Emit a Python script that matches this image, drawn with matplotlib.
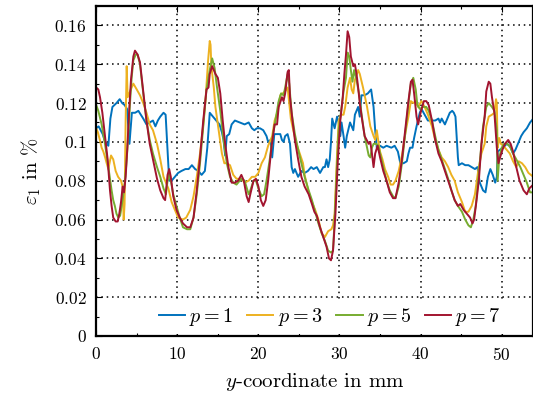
import numpy as np
import matplotlib
matplotlib.use("Agg")
import matplotlib.pyplot as plt
from matplotlib.ticker import MultipleLocator, FuncFormatter

plt.rcParams['font.family'] = 'serif'
plt.rcParams['font.serif'] = ['cmr10']
plt.rcParams['mathtext.fontset'] = 'cm'
plt.rcParams['axes.unicode_minus'] = False

# --- data (x in mm, strain in %) ---
p1 = [(0.0, 0.107), (0.3, 0.108), (0.8, 0.104), (1.1, 0.100), (1.5, 0.098), (1.75, 0.112), (2.0, 0.118),
      (2.5, 0.120), (2.9, 0.122), (3.2, 0.120), (3.5, 0.119), (3.8, 0.117), (4.1, 0.099), (4.4, 0.115),
      (4.8, 0.115), (5.2, 0.116), (5.5, 0.114), (5.8, 0.112), (6.2, 0.109), (6.6, 0.110), (7.0, 0.111),
      (7.3, 0.108), (7.6, 0.111), (7.9, 0.113), (8.3, 0.115), (8.56, 0.114), (8.9, 0.087), (9.0, 0.080),
      (9.3, 0.080), (9.7, 0.082), (10.1, 0.084), (10.5, 0.085), (11.0, 0.086), (11.4, 0.086), (11.8, 0.088),
      (12.2, 0.086), (12.6, 0.085), (13.0, 0.083), (13.4, 0.085), (13.7, 0.097), (14.0, 0.115), (14.4, 0.113),
      (14.8, 0.111), (15.2, 0.109), (15.5, 0.105), (15.7, 0.101), (15.9, 0.093), (16.1, 0.103), (16.4, 0.104),
      (16.7, 0.109), (17.1, 0.111), (17.7, 0.110), (18.3, 0.109), (18.8, 0.110), (19.2, 0.107), (19.5, 0.106),
      (19.8, 0.107), (20.2, 0.107), (20.6, 0.106), (21.0, 0.103), (21.2, 0.100), (21.5, 0.101), (21.7, 0.092),
      (21.96, 0.104), (22.3, 0.104), (22.7, 0.104), (22.9, 0.101), (23.1, 0.100), (23.3, 0.103), (23.6, 0.104),
      (23.9, 0.099), (24.1, 0.087), (24.3, 0.084), (24.5, 0.086), (24.9, 0.082), (25.3, 0.085), (25.7, 0.084),
      (26.1, 0.085), (26.5, 0.087), (26.8, 0.086), (27.2, 0.087), (27.6, 0.084), (28.0, 0.087), (28.2, 0.087),
      (28.4, 0.091), (28.6, 0.087), (28.8, 0.091), (28.95, 0.100), (29.1, 0.112), (29.4, 0.107), (29.7, 0.113),
      (29.9, 0.110), (30.1, 0.103), (30.25, 0.110), (30.5, 0.103), (30.7, 0.097), (30.9, 0.103), (31.3, 0.110),
      (31.7, 0.106), (31.9, 0.114), (32.3, 0.118), (32.5, 0.113), (32.7, 0.124), (33.1, 0.124), (33.5, 0.125),
      (33.9, 0.127), (34.2, 0.118), (34.4, 0.106), (34.6, 0.097), (35.0, 0.098), (35.4, 0.097), (35.8, 0.098),
      (36.4, 0.097), (36.8, 0.098), (37.2, 0.095), (37.5, 0.089), (37.9, 0.089), (38.3, 0.090), (38.5, 0.094),
      (38.7, 0.097), (39.0, 0.097), (39.2, 0.102), (39.5, 0.108), (39.9, 0.115), (40.1, 0.117), (40.5, 0.114),
      (40.9, 0.111), (41.4, 0.111), (41.8, 0.111), (42.2, 0.112), (42.4, 0.110), (42.6, 0.112), (43.0, 0.109),
      (43.3, 0.112), (43.6, 0.115), (43.9, 0.116), (44.1, 0.115), (44.3, 0.113), (44.6, 0.092), (44.7, 0.088),
      (45.1, 0.089), (45.5, 0.088), (45.9, 0.088), (46.3, 0.087), (46.7, 0.086), (47.0, 0.087), (47.3, 0.079),
      (47.7, 0.075), (48.0, 0.074), (48.3, 0.082), (48.6, 0.086), (48.9, 0.083), (49.2, 0.079), (49.4, 0.082),
      (49.5, 0.095), (49.8, 0.096), (50.2, 0.097), (50.6, 0.099), (51.0, 0.098), (51.4, 0.094), (51.7, 0.096),
      (52.1, 0.100), (52.4, 0.103), (52.7, 0.105), (53.1, 0.107), (53.5, 0.110), (53.9, 0.112)]

p3 = [(0.0, 0.107), (0.2, 0.105), (0.45, 0.101), (0.67, 0.097), (0.88, 0.095), (1.1, 0.092), (1.29, 0.089),
      (1.5, 0.086), (1.83, 0.093), (2.1, 0.091), (2.4, 0.085), (2.7, 0.082), (3.06, 0.080), (3.25, 0.077),
      (3.39, 0.060), (3.5, 0.068), (3.63, 0.111), (3.76, 0.139), (3.88, 0.123), (4.17, 0.126), (4.58, 0.130),
      (5.0, 0.127), (5.4, 0.124), (5.8, 0.120), (6.2, 0.115), (6.6, 0.109), (7.0, 0.106), (7.5, 0.099),
      (7.9, 0.091), (8.3, 0.082), (8.6, 0.079), (8.9, 0.076), (9.3, 0.069), (9.7, 0.065), (10.1, 0.061),
      (10.7, 0.060), (11.1, 0.061), (11.6, 0.065), (12.0, 0.072), (12.4, 0.082), (12.8, 0.094), (13.2, 0.109),
      (13.5, 0.123), (13.8, 0.142), (14.0, 0.152), (14.1, 0.150), (14.2, 0.139), (14.5, 0.128), (14.7, 0.118),
      (15.1, 0.106), (15.5, 0.094), (15.8, 0.089), (16.1, 0.089), (16.5, 0.088), (16.9, 0.083), (17.3, 0.081),
      (17.7, 0.081), (17.9, 0.081), (18.3, 0.079), (18.8, 0.080), (19.2, 0.082), (19.6, 0.082), (20.0, 0.084),
      (20.4, 0.089), (20.8, 0.092), (21.2, 0.098), (21.7, 0.103), (22.0, 0.111), (22.4, 0.116), (22.7, 0.124),
      (23.0, 0.125), (23.3, 0.126), (23.6, 0.128), (23.8, 0.120), (24.0, 0.112), (24.3, 0.106), (24.7, 0.099),
      (25.1, 0.094), (25.5, 0.089), (25.7, 0.083), (26.2, 0.074), (26.6, 0.069), (27.0, 0.065), (27.4, 0.060),
      (27.8, 0.053), (28.2, 0.051), (28.6, 0.054), (29.0, 0.055), (29.2, 0.057), (29.4, 0.063), (29.7, 0.094),
      (29.9, 0.111), (30.2, 0.114), (30.5, 0.114), (30.7, 0.118), (31.0, 0.128), (31.3, 0.133), (31.5, 0.127),
      (31.7, 0.125), (31.9, 0.132), (32.3, 0.137), (32.5, 0.135), (32.9, 0.128), (33.4, 0.118), (33.8, 0.108),
      (34.2, 0.103), (34.4, 0.101), (34.6, 0.106), (34.8, 0.100), (35.0, 0.095), (35.3, 0.091), (35.6, 0.086),
      (36.0, 0.082), (36.3, 0.078), (36.6, 0.078), (36.9, 0.080), (37.3, 0.085), (37.7, 0.093), (38.1, 0.104),
      (38.5, 0.113), (38.8, 0.121), (39.1, 0.120), (39.4, 0.121), (39.7, 0.118), (40.1, 0.121), (40.5, 0.118),
      (40.9, 0.114), (41.4, 0.108), (41.8, 0.101), (42.2, 0.096), (42.6, 0.092), (43.0, 0.090), (43.4, 0.087),
      (43.8, 0.083), (44.2, 0.080), (44.6, 0.074), (45.1, 0.069), (45.5, 0.064), (45.9, 0.064), (46.3, 0.067),
      (46.7, 0.073), (47.1, 0.085), (47.5, 0.094), (47.9, 0.099), (48.1, 0.108), (48.4, 0.113), (48.8, 0.114),
      (49.1, 0.115), (49.3, 0.122), (49.4, 0.120), (49.5, 0.097), (49.7, 0.102), (49.9, 0.099), (50.2, 0.098),
      (50.6, 0.096), (51.0, 0.094), (51.4, 0.090), (51.8, 0.087), (52.1, 0.090), (52.5, 0.089), (52.9, 0.087),
      (53.3, 0.084), (53.9, 0.082)]

p5 = [(0.0, 0.119), (0.26, 0.116), (0.67, 0.109), (1.08, 0.099), (1.5, 0.087), (1.9, 0.075), (2.1, 0.070),
      (2.3, 0.067), (2.5, 0.063), (2.73, 0.061), (2.95, 0.062), (3.14, 0.067), (3.35, 0.073), (3.55, 0.080),
      (3.76, 0.091), (3.96, 0.104), (4.17, 0.120), (4.37, 0.133), (4.58, 0.142), (4.87, 0.145), (5.1, 0.145),
      (5.4, 0.140), (5.8, 0.125), (6.2, 0.111), (6.6, 0.101), (7.0, 0.094), (7.5, 0.087), (7.9, 0.082),
      (8.3, 0.076), (8.6, 0.073), (8.8, 0.080), (9.0, 0.083), (9.2, 0.080), (9.5, 0.073), (9.9, 0.067),
      (10.3, 0.061), (10.7, 0.056), (11.2, 0.055), (11.6, 0.055), (12.0, 0.061), (12.4, 0.073), (12.8, 0.089),
      (13.2, 0.108), (13.6, 0.127), (14.0, 0.137), (14.3, 0.143), (14.6, 0.138), (14.9, 0.128), (15.3, 0.116),
      (15.7, 0.101), (16.1, 0.089), (16.5, 0.082), (16.9, 0.079), (17.3, 0.078), (17.7, 0.080), (17.9, 0.081),
      (18.3, 0.080), (18.8, 0.073), (19.0, 0.075), (19.4, 0.080), (19.7, 0.080), (20.0, 0.076), (20.4, 0.072),
      (20.7, 0.073), (21.0, 0.080), (21.4, 0.091), (21.8, 0.104), (22.1, 0.111), (22.5, 0.121), (22.8, 0.125),
      (23.1, 0.124), (23.3, 0.128), (23.6, 0.135), (23.8, 0.130), (24.1, 0.115), (24.5, 0.104), (24.9, 0.096),
      (25.3, 0.089), (25.7, 0.082), (26.2, 0.075), (26.6, 0.070), (27.0, 0.064), (27.4, 0.058), (27.8, 0.053),
      (28.2, 0.049), (28.6, 0.044), (28.95, 0.043), (29.2, 0.044), (29.4, 0.060), (29.7, 0.089), (29.9, 0.106),
      (30.2, 0.116), (30.5, 0.126), (30.8, 0.133), (31.0, 0.146), (31.2, 0.144), (31.4, 0.137), (31.6, 0.131),
      (31.8, 0.137), (32.1, 0.132), (32.4, 0.125), (32.7, 0.115), (33.1, 0.103), (33.6, 0.093), (33.8, 0.092),
      (34.0, 0.097), (34.2, 0.099), (34.5, 0.099), (34.8, 0.098), (35.0, 0.094), (35.4, 0.087), (35.8, 0.080),
      (36.2, 0.075), (36.6, 0.072), (36.9, 0.071), (37.3, 0.077), (37.7, 0.089), (38.1, 0.104), (38.5, 0.120),
      (38.8, 0.130), (39.1, 0.133), (39.4, 0.127), (39.6, 0.119), (39.9, 0.117), (40.3, 0.118), (40.7, 0.118),
      (41.0, 0.116), (41.4, 0.111), (41.8, 0.103), (42.2, 0.096), (42.6, 0.091), (43.0, 0.086), (43.4, 0.081),
      (43.8, 0.075), (44.2, 0.070), (44.6, 0.067), (45.1, 0.064), (45.5, 0.060), (45.9, 0.057), (46.2, 0.056),
      (46.5, 0.060), (46.8, 0.067), (47.1, 0.080), (47.4, 0.094), (47.7, 0.108), (48.1, 0.118), (48.4, 0.120),
      (48.8, 0.118), (49.1, 0.116), (49.4, 0.106), (49.5, 0.080), (49.7, 0.092), (50.0, 0.097), (50.3, 0.099),
      (50.7, 0.099), (51.1, 0.097), (51.4, 0.094), (51.8, 0.091), (52.3, 0.087), (52.7, 0.083), (53.1, 0.079),
      (53.5, 0.074), (53.9, 0.074)]

p7 = [(0.0, 0.128), (0.26, 0.127), (0.47, 0.123), (0.76, 0.115), (1.08, 0.103), (1.41, 0.091), (1.7, 0.075),
      (1.9, 0.067), (2.1, 0.061), (2.4, 0.059), (2.65, 0.059), (2.85, 0.063), (3.06, 0.069), (3.26, 0.077),
      (3.43, 0.074), (3.63, 0.082), (3.84, 0.097), (4.05, 0.115), (4.29, 0.132), (4.58, 0.144), (4.78, 0.147),
      (5.1, 0.145), (5.4, 0.141), (5.8, 0.126), (6.2, 0.111), (6.6, 0.099), (7.0, 0.091), (7.5, 0.081),
      (7.9, 0.075), (8.3, 0.071), (8.5, 0.070), (8.8, 0.083), (9.0, 0.086), (9.2, 0.082), (9.5, 0.072),
      (9.9, 0.065), (10.3, 0.061), (10.7, 0.058), (11.2, 0.056), (11.6, 0.056), (12.0, 0.061), (12.4, 0.075),
      (12.8, 0.092), (13.2, 0.111), (13.6, 0.127), (13.85, 0.128), (14.0, 0.135), (14.3, 0.139), (14.7, 0.135),
      (15.0, 0.133), (15.3, 0.125), (15.6, 0.111), (15.9, 0.099), (16.3, 0.087), (16.7, 0.079), (17.1, 0.079),
      (17.5, 0.080), (17.9, 0.083), (18.2, 0.080), (18.55, 0.072), (18.8, 0.069), (19.0, 0.073), (19.4, 0.080),
      (19.7, 0.081), (20.0, 0.077), (20.3, 0.070), (20.6, 0.067), (20.9, 0.070), (21.2, 0.080), (21.6, 0.097),
      (22.0, 0.109), (22.3, 0.109), (22.5, 0.118), (22.9, 0.123), (23.1, 0.121), (23.3, 0.125), (23.6, 0.136),
      (23.75, 0.137), (23.9, 0.123), (24.2, 0.111), (24.5, 0.101), (24.9, 0.091), (25.3, 0.082), (25.7, 0.077),
      (26.2, 0.073), (26.6, 0.068), (26.9, 0.064), (27.2, 0.062), (27.6, 0.056), (28.0, 0.051), (28.4, 0.046),
      (28.7, 0.040), (28.95, 0.039), (29.2, 0.044), (29.5, 0.063), (29.8, 0.091), (30.1, 0.111), (30.4, 0.123),
      (30.6, 0.135), (30.8, 0.145), (31.0, 0.157), (31.2, 0.154), (31.4, 0.144), (31.7, 0.139), (31.9, 0.140),
      (32.1, 0.135), (32.3, 0.128), (32.5, 0.120), (32.8, 0.111), (33.1, 0.103), (33.6, 0.099), (33.8, 0.100),
      (34.0, 0.094), (34.2, 0.087), (34.4, 0.094), (34.7, 0.098), (35.0, 0.092), (35.4, 0.085), (35.8, 0.080),
      (36.2, 0.074), (36.6, 0.071), (36.9, 0.071), (37.3, 0.079), (37.7, 0.091), (38.1, 0.106), (38.5, 0.121),
      (38.8, 0.131), (39.0, 0.132), (39.2, 0.125), (39.5, 0.113), (39.7, 0.109), (40.0, 0.115), (40.4, 0.121),
      (40.7, 0.121), (41.0, 0.119), (41.4, 0.111), (41.8, 0.101), (42.2, 0.094), (42.6, 0.090), (43.0, 0.085),
      (43.4, 0.080), (43.8, 0.075), (44.2, 0.070), (44.6, 0.067), (44.9, 0.068), (45.3, 0.065), (45.7, 0.063),
      (46.1, 0.061), (46.4, 0.058), (46.6, 0.060), (46.9, 0.070), (47.2, 0.081), (47.5, 0.099), (47.9, 0.113),
      (48.1, 0.126), (48.4, 0.131), (48.6, 0.130), (48.8, 0.123), (49.1, 0.115), (49.4, 0.097), (49.6, 0.089),
      (49.8, 0.092), (50.1, 0.096), (50.4, 0.099), (50.8, 0.101), (51.1, 0.099), (51.4, 0.095), (51.8, 0.087),
      (52.2, 0.080), (52.7, 0.075), (53.1, 0.073), (53.4, 0.076), (53.9, 0.078)]

series = [p1, p3, p5, p7]
labels = [r'$p = 1$', r'$p = 3$', r'$p = 5$', r'$p = 7$']
colors = ['#0072BD', '#EDB120', '#77AC30', '#A2142F']

fig = plt.figure(figsize=(5.33, 4.03), dpi=100)
ax = fig.add_axes([96.2 / 533, 67 / 403, (533 - 96.2) / 533, 330 / 403])

for data, lab, col in zip(series, labels, colors):
    arr = np.array(data)
    ax.plot(arr[:, 0], arr[:, 1], color=col, lw=1.4, label=lab)

ax.set_xlim(0, 53.86)
ax.set_ylim(0, 0.17)
ax.xaxis.set_major_locator(MultipleLocator(10))
ax.xaxis.set_minor_locator(MultipleLocator(5))
ax.yaxis.set_major_locator(MultipleLocator(0.02))
ax.yaxis.set_minor_locator(MultipleLocator(0.01))
ax.yaxis.set_major_formatter(FuncFormatter(lambda v, pos: r'$%g$' % round(v, 3)))
ax.xaxis.set_major_formatter(FuncFormatter(lambda v, pos: r'$%g$' % v))
ax.tick_params(which='both', direction='in', top=True, right=False, labelsize=12.5, width=0.8)
ax.tick_params(which='major', length=4, pad=7)
ax.tick_params(which='minor', length=2.5)
ax.grid(True, which='major', color='black', linestyle=(0, (1, 2.5)), linewidth=1.1)
for s in ax.spines.values():
    s.set_linewidth(1.6)

ax.set_xlabel(r'$y$-coordinate in mm', fontsize=15, labelpad=6)
ax.set_ylabel(r'$\varepsilon_1$ in %', fontsize=15, labelpad=8)

leg = ax.legend(loc='center', bbox_to_anchor=(0.535, 0.058), ncol=4, frameon=True,
                fontsize=14.5, handlelength=1.3, handletextpad=0.2, columnspacing=0.7,
                borderpad=0.3, borderaxespad=0)
leg.get_frame().set_edgecolor('none')
leg.get_frame().set_alpha(1)

fig.savefig('out.png', dpi=100)
